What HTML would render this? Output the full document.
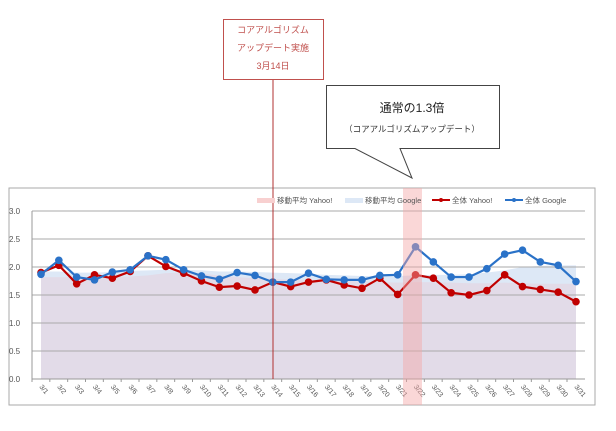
<!DOCTYPE html><html><head><meta charset="utf-8"><style>body{margin:0;background:#fff;font-family:"Liberation Sans","Noto Sans CJK JP",sans-serif}svg text{font-family:"Liberation Sans","Noto Sans CJK JP",sans-serif}</style></head><body>
<svg id="c" width="616" height="426"></svg>
<script>
const categories=[];for(let i=1;i<=31;i++)categories.push('3/'+i);
const yahoo=[1.90,2.03,1.70,1.86,1.80,1.92,2.20,2.01,1.89,1.75,1.64,1.66,1.59,1.73,1.65,1.73,1.77,1.68,1.62,1.80,1.51,1.86,1.80,1.54,1.50,1.58,1.86,1.65,1.60,1.55,1.38];
const google=[1.87,2.12,1.82,1.77,1.91,1.95,2.20,2.13,1.95,1.84,1.78,1.90,1.85,1.73,1.73,1.89,1.78,1.77,1.77,1.85,1.86,2.36,2.09,1.82,1.82,1.97,2.23,2.30,2.09,2.03,1.74];
const maYahoo=[1.82,1.82,1.82,1.82,1.82,1.83,1.85,1.89,1.90,1.88,1.85,1.82,1.80,1.79,1.77,1.76,1.76,1.75,1.74,1.73,1.72,1.73,1.73,1.72,1.71,1.71,1.72,1.71,1.70,1.70,1.70];
const maGoogle=[1.92,1.92,1.90,1.90,1.91,1.93,1.94,1.95,1.95,1.94,1.92,1.92,1.91,1.90,1.89,1.88,1.86,1.85,1.84,1.84,1.84,1.85,1.86,1.86,1.87,1.90,1.94,2.00,2.02,2.03,2.03];
const yTicks=['0.0','0.5','1.0','1.5','2.0','2.5','3.0'];
const svg=document.getElementById('c');const NS='http://www.w3.org/2000/svg';
function mk(t,a,p){const e=document.createElementNS(NS,t);for(const k in a)e.setAttribute(k,a[k]);(p||svg).appendChild(e);return e;}
const X=i=>41+i*(535/30), Y=v=>379-v*56;
let e;
e=mk('rect',{x:9,y:188,width:586,height:217,fill:'#fff',stroke:'#aaa'});

function area(arr,fill,name){let d='M'+X(0)+','+Y(0);arr.forEach((v,i)=>d+='L'+X(i)+','+Y(v));d+='L'+X(arr.length-1)+','+Y(0)+'Z';
 const p=mk('path',{d:d,fill:fill});}
area(maGoogle,'#dde8f6','moving-avg-google-area');
area(maYahoo,'#e2dbe8','moving-avg-yahoo-area');
yTicks.forEach(t=>{const v=parseFloat(t);
 e=mk('line',{x1:32,x2:585,y1:Y(v),y2:Y(v),stroke:v==0?'#999':'#aaa'});
 e=mk('text',{x:9,y:Y(v)+3,'font-size':8,fill:'#555'});e.textContent=t;});
e=mk('line',{x1:32,x2:32,y1:211,y2:379,stroke:'#999'});
categories.forEach((c,i)=>{
 e=mk('line',{x1:X(i)-9,x2:X(i)-9,y1:379,y2:382,stroke:'#999'});
 e=mk('text',{x:X(i)-2,y:387,'font-size':7,fill:'#555',transform:'rotate(50 '+(X(i)-2)+' 387)'});e.textContent=c;});
function line(arr,col,name){let d='';arr.forEach((v,i)=>d+=(i?'L':'M')+X(i)+','+Y(v));
 const p=mk('path',{d:d,fill:'none',stroke:col,'stroke-width':2.2});
 arr.forEach((v,i)=>{const c=mk('circle',{cx:X(i),cy:Y(v),r:3.8,fill:col});});}
line(yahoo,'#c00000','yahoo');
line(google,'#2a72c8','google');
e=mk('rect',{x:403,y:188,width:19,height:217,fill:'#f4a6a6',opacity:0.45});
e=mk('line',{x1:273,x2:273,y1:80,y2:379,stroke:'#b03030','stroke-width':1});
const lg=[[257,'rect','#f8d0d0','移動平均 Yahoo!'],[345,'rect','#dde8f6','移動平均 Google'],[432,'line','#c00000','全体 Yahoo!'],[505,'line','#2a72c8','全体 Google']];
lg.forEach(l=>{const g=mk('g',{});
 if(l[1]=='rect')mk('rect',{x:l[0],y:198,width:18,height:5,fill:l[2]},g);else{mk('line',{x1:l[0],x2:l[0]+18,y1:200,y2:200,stroke:l[2],'stroke-width':2},g);mk('circle',{cx:l[0]+9,cy:200,r:2,fill:l[2]},g);}
 const t=mk('text',{x:l[0]+20,y:203,'font-size':7.5,fill:'#555'},g);t.textContent=l[3];});
e=mk('rect',{x:223.5,y:19.5,width:100,height:60,fill:'#fff',stroke:'#c0504d'});
[['コアアルゴリズム',33],['アップデート実施',51],['3月14日',69]].forEach(a=>{e=mk('text',{x:273,y:a[1],'font-size':9,fill:'#c0504d','text-anchor':'middle'});e.textContent=a[0];});
e=mk('path',{d:'M326.5,85.5H499.5V148.5H400L412,178L355,148.5H326.5Z',fill:'#fff',stroke:'#444'});
e=mk('text',{x:412,y:112,'font-size':12,fill:'#222','text-anchor':'middle'});e.textContent='通常の1.3倍';
e=mk('text',{x:412,y:132,'font-size':8.5,fill:'#333','text-anchor':'middle'});e.textContent='（コアアルゴリズムアップデート）';
</script></body></html>
